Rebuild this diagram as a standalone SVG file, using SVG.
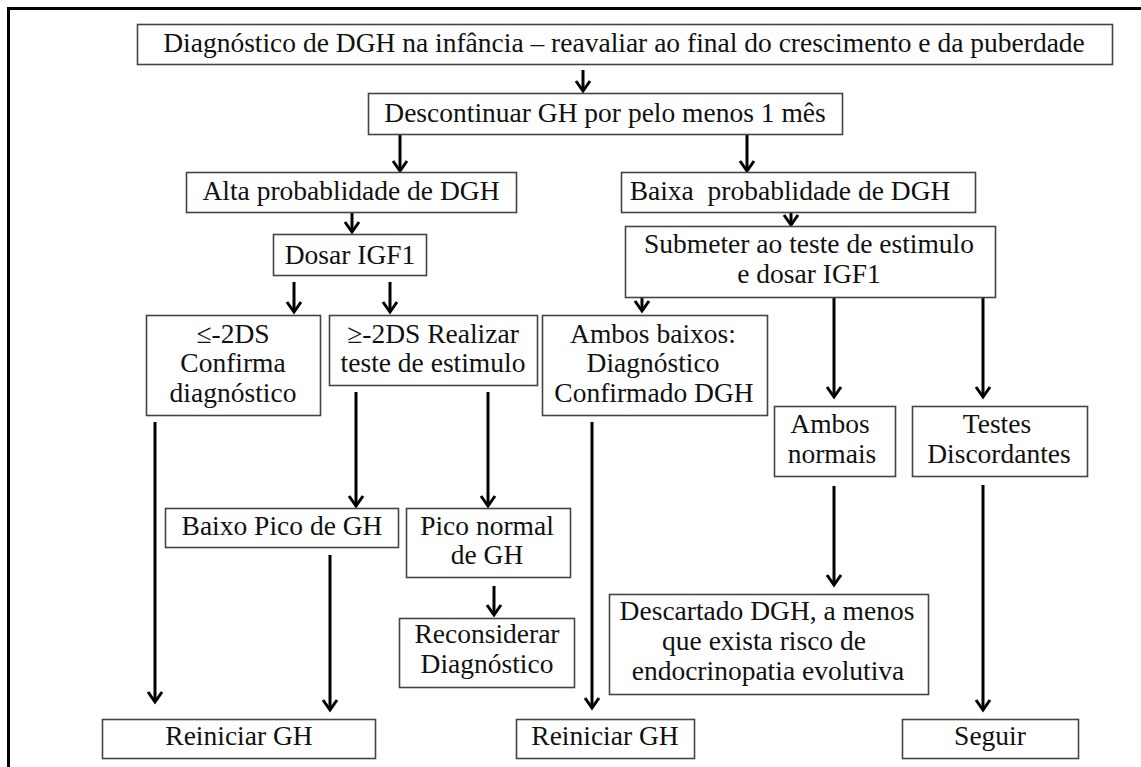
<svg xmlns="http://www.w3.org/2000/svg" width="1141" height="767" viewBox="0 0 1141 767">
<style>
.box{fill:#fff;stroke:#444;stroke-width:1.6}
.t{font-family:"Liberation Serif","Times New Roman",serif;font-size:27.5px;fill:#111;text-anchor:middle}
.c{stroke:#000;stroke-width:3;fill:none;marker-end:url(#ah)}
</style>
<defs>
<marker id="ah" markerUnits="userSpaceOnUse" markerWidth="24" markerHeight="24" refX="12" refY="10" orient="auto" overflow="visible">
<path d="M2,3 L12,10 L2,17" fill="none" stroke="#000" stroke-width="3"/>
</marker>
</defs>
<rect x="0" y="0" width="1141" height="767" fill="#fff"/>
<rect x="8.5" y="8.5" width="1160" height="800" fill="none" stroke="#000" stroke-width="3"/>
<g id="connectors">
<line class="c" x1="583" y1="70" x2="583" y2="91"/>
<line class="c" x1="400" y1="134" x2="400" y2="171"/>
<line class="c" x1="747" y1="134" x2="747" y2="171"/>
<line class="c" x1="352" y1="212" x2="352" y2="232"/>
<line class="c" x1="791" y1="212" x2="791" y2="225"/>
<line class="c" x1="294" y1="282" x2="294" y2="312"/>
<line class="c" x1="390" y1="282" x2="390" y2="312"/>
<line class="c" x1="642" y1="297" x2="642" y2="311"/>
<line class="c" x1="834" y1="297" x2="834" y2="397"/>
<line class="c" x1="983" y1="297" x2="983" y2="397"/>
<line class="c" x1="155" y1="422" x2="155" y2="702"/>
<line class="c" x1="356" y1="392" x2="356" y2="506"/>
<line class="c" x1="488" y1="392" x2="488" y2="506"/>
<line class="c" x1="330" y1="555" x2="330" y2="710"/>
<line class="c" x1="494" y1="586" x2="494" y2="615"/>
<line class="c" x1="592" y1="422" x2="592" y2="708"/>
<line class="c" x1="834" y1="486" x2="834" y2="585"/>
<line class="c" x1="983" y1="485" x2="983" y2="710"/>
</g>
<g id="n_top"><rect class="box" x="137.5" y="24.5" width="975" height="40"/><text class="t" x="624" y="52">Diagnóstico de DGH na infância – reavaliar ao final do crescimento e da puberdade</text></g>
<g id="n_desc"><rect class="box" x="368.5" y="93.5" width="474" height="41"/><text class="t" x="605" y="122">Descontinuar GH por pelo menos 1 mês</text></g>
<g id="n_alta"><rect class="box" x="186.5" y="172.5" width="330" height="40"/><text class="t" x="351" y="200">Alta probablidade de DGH</text></g>
<g id="n_baixa"><rect class="box" x="621.5" y="172.5" width="354" height="40"/><text class="t" x="790" y="200" xml:space="preserve">Baixa  probablidade de DGH</text></g>
<g id="n_dosar"><rect class="box" x="273.5" y="234.5" width="153" height="41"/><text class="t" x="350" y="264">Dosar IGF1</text></g>
<g id="n_submeter"><rect class="box" x="625.5" y="226.5" width="370" height="71"/><text class="t" x="809" y="253">Submeter ao teste de estimulo</text><text class="t" x="809" y="283">e dosar IGF1</text></g>
<g id="n_le"><rect class="box" x="146.5" y="315.5" width="174" height="100"/><text class="t" x="233" y="343">≤-2DS</text><text class="t" x="233" y="372">Confirma</text><text class="t" x="233" y="402">diagnóstico</text></g>
<g id="n_ge"><rect class="box" x="329.5" y="315.5" width="208" height="70"/><text class="t" x="433" y="343">≥-2DS Realizar</text><text class="t" x="433" y="372">teste de estimulo</text></g>
<g id="n_ambosbaixos"><rect class="box" x="542.5" y="315.5" width="225" height="100"/><text class="t" x="653" y="343">Ambos baixos:</text><text class="t" x="653" y="372">Diagnóstico</text><text class="t" x="654" y="402">Confirmado DGH</text></g>
<g id="n_ambosnormais"><rect class="box" x="774.5" y="406.5" width="121" height="70"/><text class="t" x="830" y="433">Ambos</text><text class="t" x="832" y="463">normais</text></g>
<g id="n_testes"><rect class="box" x="912.5" y="406.5" width="175" height="70"/><text class="t" x="997" y="433">Testes</text><text class="t" x="999" y="463">Discordantes</text></g>
<g id="n_baixopico"><rect class="box" x="165.5" y="508.5" width="233" height="39"/><text class="t" x="282" y="535">Baixo Pico de GH</text></g>
<g id="n_piconormal"><rect class="box" x="406.5" y="508.5" width="164" height="69"/><text class="t" x="487" y="535">Pico normal</text><text class="t" x="487" y="564">de GH</text></g>
<g id="n_reconsiderar"><rect class="box" x="399.5" y="618.5" width="175" height="69"/><text class="t" x="487" y="643">Reconsiderar</text><text class="t" x="487" y="673">Diagnóstico</text></g>
<g id="n_descartado"><rect class="box" x="609.5" y="594.5" width="319" height="100"/><text class="t" x="767" y="620">Descartado DGH, a menos</text><text class="t" x="764" y="650">que exista risco de</text><text class="t" x="768" y="680">endocrinopatia evolutiva</text></g>
<g id="n_reiniciar1"><rect class="box" x="102.5" y="719.5" width="273" height="39"/><text class="t" x="239" y="745">Reiniciar GH</text></g>
<g id="n_reiniciar2"><rect class="box" x="516.5" y="719.5" width="178" height="39"/><text class="t" x="605" y="745">Reiniciar GH</text></g>
<g id="n_seguir"><rect class="box" x="902.5" y="719.5" width="176" height="39"/><text class="t" x="990" y="745">Seguir</text></g>
</svg>
